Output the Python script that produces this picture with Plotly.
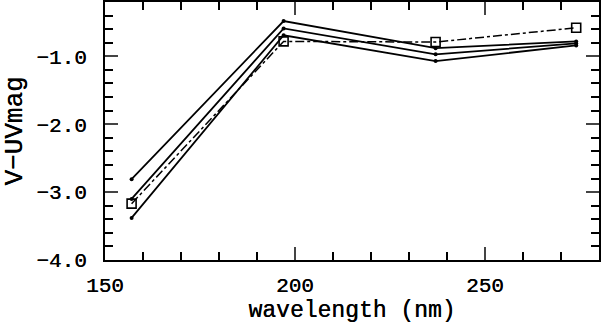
import plotly.graph_objects as go

# wavelengths of the four bands (nm)
wavelength = [157, 197, 237, 274]

# V-UV colours, three model curves and the observed one (squares)
model_top = [-2.81, -0.48, -0.88, -0.78]
model_mid = [-3.10, -0.59, -0.97, -0.81]
model_bot = [-3.38, -0.69, -1.07, -0.84]
observed = [-3.17, -0.78, -0.79, -0.58]

fig = go.Figure()

for ys in [model_top, model_mid, model_bot]:
    fig.add_trace(go.Scatter(
        x=wavelength, y=ys, mode='lines+markers',
        line=dict(color='black', width=1.8),
        marker=dict(color='black', size=4, symbol='circle'),
        showlegend=False))

fig.add_trace(go.Scatter(
    x=wavelength, y=observed, mode='lines+markers',
    line=dict(color='black', width=1.5, dash='dashdot'),
    marker=dict(symbol='square-open', size=9, color='black', line=dict(width=1.6)),
    showlegend=False))

tick_font = dict(family='Liberation Mono', size=21, color='black', shadow='0.3px 0 0 black')
xtitle_font = dict(family='Liberation Mono', size=23, color='black', shadow='0.3px 0 0 black')
ytitle_font = dict(family='Liberation Mono', size=26, color='black', shadow='0.3px 0 0 black')

fig.update_xaxes(
    range=[150, 280], tickvals=[150, 200, 250], ticks='inside', ticklen=13,
    tickwidth=1.5, showline=True, linewidth=2, linecolor='black', mirror='allticks',
    showgrid=False, zeroline=False, tickfont=tick_font, ticklabelstandoff=5, automargin=False,
    minor=dict(dtick=10, tick0=150, ticks='inside', ticklen=8, tickwidth=1.5, tickcolor='black', showgrid=False),
    title=dict(text='wavelength (nm)', font=xtitle_font, standoff=5))

fig.update_yaxes(
    range=[-4.0, -0.2], tickvals=[-4.0, -3.0, -2.0, -1.0], tickformat='.1f',
    ticks='inside', ticklen=13, tickwidth=1.5, showline=True, linewidth=2,
    linecolor='black', mirror='allticks', showgrid=False, zeroline=False,
    tickfont=tick_font, ticklabelstandoff=12, automargin=False,
    minor=dict(dtick=0.2, tick0=-4.0, ticks='inside', ticklen=8, tickwidth=1.5, tickcolor='black', showgrid=False),
    title=dict(text='V\u2212UVmag', font=ytitle_font, standoff=12))

fig.update_layout(
    width=601, height=324,
    margin=dict(l=105, r=2, t=2, b=64),
    plot_bgcolor='white', paper_bgcolor='white')

# drop the browser's default page margin so the figure sits at the top-left corner
fig.write_html("out.html", config={'displayModeBar': False},
               post_script="document.body.style.margin = '0';")
